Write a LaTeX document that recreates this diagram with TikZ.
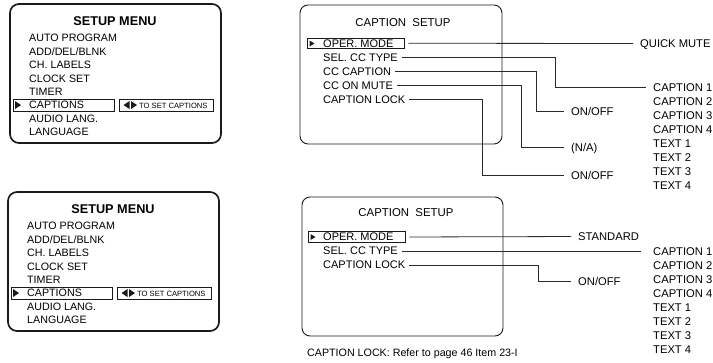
\documentclass[tikz,border=0pt]{standalone}
\usepackage{fontspec}
\setmainfont{Liberation Sans}
\usetikzlibrary{positioning,calc}
\definecolor{menuink}{HTML}{1A1A1A}
\definecolor{wireink}{HTML}{2A2A2A}
\tikzset{
  menuframe/.style={draw=menuink, line width=1.7pt, rounded corners=9pt},
  capframe/.style={draw=menuink, line width=0.9pt, rounded corners=8pt},
  selbox/.style={draw=menuink, line width=0.9pt},
  ttl/.style={inner sep=0pt, font=\fontsize{12.7}{14}\selectfont\bfseries},
  ttlcap/.style={inner sep=0pt, font=\fontsize{11.4}{13}\selectfont},
  itm/.style={anchor=west, inner sep=0pt, text height=7.7pt, text depth=0pt, font=\fontsize{10.7}{12}\selectfont},
  citm/.style={itm, font=\fontsize{11}{12}\selectfont},
  hint/.style={anchor=west, inner sep=0pt, font=\fontsize{7.6}{9}\selectfont},
  opt/.style={anchor=west, inner sep=0pt, text height=8pt, text depth=0pt, font=\fontsize{11.2}{12}\selectfont},
  wire/.style={draw=wireink, line width=0.8pt, shorten <=4pt, shorten >=7pt},
}
\begin{document}
\begin{tikzpicture}[x=1pt, y=-1pt]
  \useasboundingbox (0,0) rectangle (713,362);
  % setup menu, drawn twice
  \foreach \k/\dx/\dy in {A/0/0, B/-2/188} {
    \begin{scope}[shift={(\dx,\dy)}]
      \draw[menuframe] (10,4) rectangle (221,143);
      \node[ttl] (title\k) at (115,21) {SETUP MENU};
      \foreach \t [count=\i from 0] in {AUTO PROGRAM, ADD/DEL/BLNK, CH. LABELS, CLOCK SET, TIMER, CAPTIONS, AUDIO LANG., LANGUAGE}
        \node[itm] (item\k\i) at (29,{38+13.4*\i}) {\t};
      \draw[selbox] (13,99) rectangle (114,111);
      \fill[menuink] (15,101) -- (21,105) -- (15,109) -- cycle;
      \draw[selbox] (119,99) rectangle (213,111);
      \fill[menuink] (129.5,101) -- (123.5,105) -- (129.5,109) -- cycle;
      \fill[menuink] (131,101) -- (137,105) -- (131,109) -- cycle;
      \node[hint] (hint\k) at (139,105.5) {TO SET CAPTIONS};
    \end{scope}
  }
  % caption setup, full
  \draw[capframe] (300,5) rectangle (502,144);
  \node[ttlcap] (capttlA) at (403,23) {CAPTION~~SETUP};
  \node[selbox, minimum width=97pt, minimum height=10.5pt, inner sep=0pt] (operA) at (355.5,43.25) {};
  \fill[menuink] (309.5,40.5) -- (314.5,43.5) -- (309.5,46.5) -- cycle;
  \foreach \t/\n [count=\i from 0] in {OPER. MODE/modeA, SEL. CC TYPE/typeA, CC CAPTION/ccapA, CC ON MUTE/cmuteA, CAPTION LOCK/lockA}
    \node[citm] (\n) at (323,{43.2+14.15*\i}) {\t};
  \node[opt] (qmute) at (640,43.5) {QUICK MUTE};
  \foreach \t [count=\i] in {CAPTION 1, CAPTION 2, CAPTION 3, CAPTION 4, TEXT 1, TEXT 2, TEXT 3, TEXT 4}
    \node[opt] (capA\i) at (653,{87+14.1*(\i-1)}) {\t};
  \node[opt] (onoffA) at (571,111) {ON/OFF};
  \node[opt] (naA) at (571,147) {(N/A)};
  \node[opt] (onoffB) at (571,175.5) {ON/OFF};
  \coordinate (bendA) at (555,0);
  \coordinate (bendB) at (536,0);
  \coordinate (bendC) at (521,0);
  \coordinate (bendD) at (482,0);
  \draw[wire] (operA.east) -- (qmute.west);
  \draw[wire] (typeA.east) -- (bendA |- typeA.east) |- (capA1.west);
  \draw[wire] (ccapA.east) -- (bendB |- ccapA.east) |- (onoffA.west);
  \draw[wire] (cmuteA.east) -- (bendC |- cmuteA.east) |- (naA.west);
  \draw[wire] (lockA.east) -- (bendD |- lockA.east) |- (onoffB.west);
  % caption setup, short
  \draw[capframe] (302,197) rectangle (503,336);
  \node[ttlcap] (capttlB) at (406,213) {CAPTION~~SETUP};
  \node[selbox, minimum width=97pt, minimum height=10.5pt, inner sep=0pt] (operB) at (356.5,237) {};
  \fill[menuink] (310.5,234) -- (315.5,237) -- (310.5,240) -- cycle;
  \foreach \t/\n [count=\i from 0] in {OPER. MODE/modeB, SEL. CC TYPE/typeB, CAPTION LOCK/lockB}
    \node[citm] (\n) at (323,{237+14*\i}) {\t};
  \node[opt] (stdB) at (578,236.5) {STANDARD};
  \foreach \t [count=\i] in {CAPTION 1, CAPTION 2, CAPTION 3, CAPTION 4, TEXT 1, TEXT 2, TEXT 3, TEXT 4}
    \node[opt] (capB\i) at (653,{251+14*(\i-1)}) {\t};
  \node[opt] (onoffC) at (578,281.5) {ON/OFF};
  \coordinate (bendE) at (538,0);
  \draw[wire] (operB.east) -- (stdB.west);
  \draw[wire, shorten >=12pt] (typeB.east) -- (capB1.west);
  \draw[wire] (lockB.east) -- (bendE |- lockB.east) |- (onoffC.west);
  \node[anchor=west, inner sep=0pt, font=\fontsize{10.7}{12}\selectfont] (lockref) at (307,354) {CAPTION LOCK: Refer to page 46 Item 23-I};
\end{tikzpicture}
\end{document}
